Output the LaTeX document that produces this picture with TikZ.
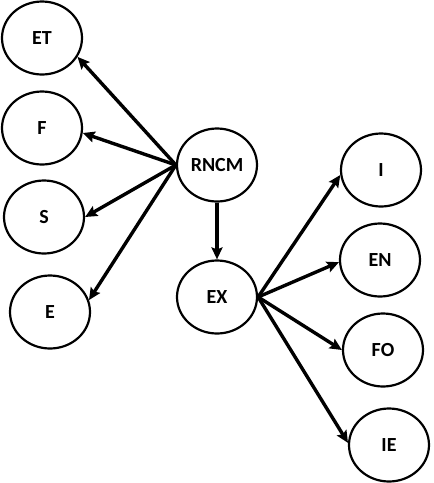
\documentclass[tikz,border=0pt]{standalone}
\usepackage{fontspec}
\setmainfont{Carlito}
\usetikzlibrary{arrows.meta}
\usetikzlibrary{shapes.geometric}

\tikzset{
	var/.style={shape=ellipse, draw, line width=2.2pt, minimum width=80pt, minimum height=73pt, inner sep=0pt, font=\fontsize{20}{22}\selectfont\bfseries},
	link/.style={line width=3.4pt, -{Stealth[length=12pt, width=11pt, inset=2pt]}}
}

\begin{document}
\begin{tikzpicture}[x=1pt, y=-1pt]
				\useasboundingbox (0,0) rectangle (434,483);
				% left column
				\node[var] (et) at ( 42, 38) {ET};
				\node[var] (f)  at ( 42,128) {F};
				\node[var] (s)  at ( 44,217) {S};
				\node[var] (e)  at ( 50,312) {E};
				% middle
				\node[var] (rncm) at (217,165) {RNCM};
				\node[var] (ex)   at (217,297) {EX};
				% right column
				\node[var] (i)  at (381,170) {I};
				\node[var] (en) at (380,260) {EN};
				\node[var] (fo) at (383,350) {FO};
				\node[var] (ie) at (389,445) {IE};
				\begin{scope}[link]
					\draw (rncm.west) -- (et.-28);
					\draw (rncm.west) -- (f.-7);
					\draw (rncm.west) -- (s.0);
					\draw (rncm.west) -- (e.17);
					\draw (rncm.south) -- (ex.north);
					\draw (ex.east) -- (i.-173);
					\draw (ex.east) -- (en.-177);
					\draw (ex.east) -- (fo.180);
					\draw (ex.east) -- (ie.177);
				\end{scope}
			\end{tikzpicture}
\end{document}
